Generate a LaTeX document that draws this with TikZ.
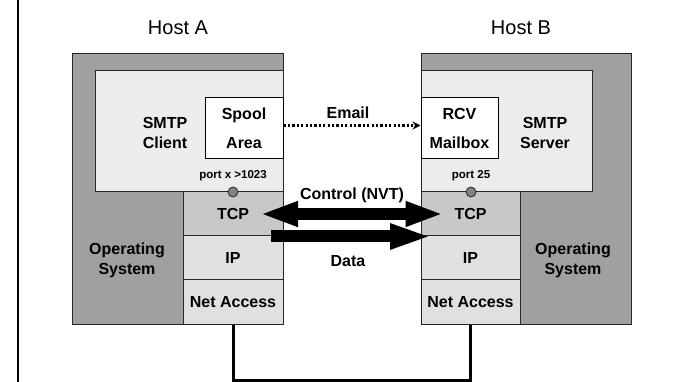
\documentclass[tikz,border=0pt]{standalone}
\usepackage{fontspec}
\setmainfont{Liberation Sans}
\usetikzlibrary{arrows.meta}
\definecolor{osgray}{RGB}{160,160,160}
\definecolor{appgray}{RGB}{236,236,236}
\definecolor{tcpgray}{RGB}{200,200,200}
\definecolor{laygray}{RGB}{224,224,224}
\definecolor{portgray}{RGB}{130,130,130}

\begin{document}
\begin{tikzpicture}[x=1pt,y=-1pt,
	hostbox/.style={draw=black!85,fill=osgray,line width=1pt,minimum width=#1,minimum height=270pt,inner sep=0pt},
	appbox/.style={draw=black!85,fill=appgray,line width=1pt,minimum width=#1,minimum height=121pt,inner sep=0pt},
	queuebox/.style={draw=black,fill=white,line width=1pt,minimum width=#1,minimum height=61pt,inner sep=0pt,
		font=\fontsize{16}{29}\selectfont\bfseries,align=center},
	layerbox/.style={draw=black!85,fill=#1,line width=1pt,minimum width=100pt,minimum height=44pt,inner sep=0pt,
		font=\fontsize{16}{19}\selectfont\bfseries},
	lbl/.style={font=\fontsize{16}{20}\selectfont\bfseries,align=center,inner sep=0pt},
	portlbl/.style={font=\fontsize{11.5}{13}\selectfont\bfseries,inner sep=0pt},
	hostlbl/.style={font=\fontsize{20}{24}\selectfont,inner sep=0pt},
	port/.style={circle,draw=black!85,fill=portgray,line width=0.8pt,minimum size=10pt,inner sep=0pt},
	fatarrow/.style={line width=12pt,{Triangle[length=38pt,width=23pt]}-{Triangle[length=38pt,width=23pt]}}]
	\useasboundingbox (0,0) rectangle (675,382);
	\draw[line width=1.5pt] (18,0) -- (18,382);

	\node (hostA) [hostlbl] at (178,28) {Host A};
	\node (hostB) [hostlbl] at (521,28) {Host B};

	\node (osA) [hostbox=211pt] at (177.5,189) {};
	\node (clientA) [appbox=188pt] at (189,131.5) {};
	\node (spool) [queuebox=78pt] at (244,128.5) {Spool\\Area};
	\node (tcpA) [layerbox=tcpgray] at (233,214) {TCP};
	\node (ipA) [layerbox=laygray] at (233,258) {IP};
	\node (netA) [layerbox=laygray] at (233,302) {Net Access};
	\node (smtpA) [lbl] at (165,133) {SMTP\\Client};
	\node (osAlbl) [lbl] at (127,260) {Operating\\System};
	\node (portAlbl) [portlbl] at (233,176) {port x >1023};
	\node (portA) [port] at (233,192) {};

	\node (osB) [hostbox=210pt] at (526,189) {};
	\node (serverB) [appbox=171pt] at (506.5,131.5) {};
	\node (rcv) [queuebox=77pt] at (459.5,128.5) {RCV\\Mailbox};
	\node (tcpB) [layerbox=tcpgray,minimum width=99pt] at (470.5,214) {TCP};
	\node (ipB) [layerbox=laygray,minimum width=99pt] at (470.5,258) {IP};
	\node (netB) [layerbox=laygray,minimum width=99pt] at (470.5,302) {Net Access};
	\node (smtpB) [lbl] at (545,133) {SMTP\\Server};
	\node (osBlbl) [lbl] at (573,260) {Operating\\System};
	\node (portBlbl) [portlbl] at (471,176) {port 25};
	\node (portB) [port] at (471,192) {};

	\draw[line width=2.4pt,dash pattern=on 2.2pt off 2.2pt,-{Stealth[length=8pt,width=8pt]}]
		([yshift=3pt]spool.east) -- ([yshift=3pt]rcv.west);
	\node (email) [lbl] at (348,113) {Email};

	\draw[fatarrow] ([xshift=27pt]tcpA.center) -- ([xshift=-27pt]tcpB.center);
	\node (control) [lbl] at (352,195) {Control (NVT)};

	\draw[line width=12pt,-{Triangle[length=42pt,width=23pt]}] ([xshift=38pt]tcpA.south) -- ([xshift=-38.5pt]tcpB.south);
	\node (data) [lbl] at (348,261) {Data};

	\draw[line width=3pt] (netA.south) -- ++(0,56) -| (netB.south);
\end{tikzpicture}
\end{document}
